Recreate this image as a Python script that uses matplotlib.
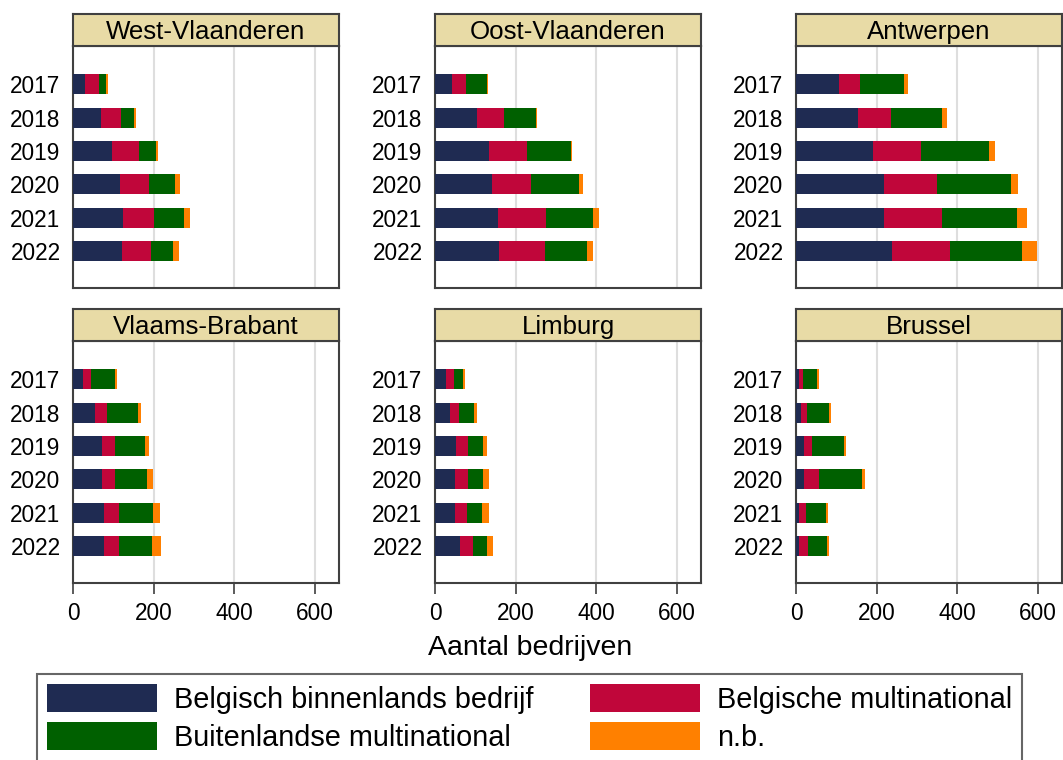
import numpy as np
import matplotlib
matplotlib.use("Agg")
import matplotlib.pyplot as plt
from matplotlib.patches import Patch

plt.rcParams['font.family'] = ['Liberation Sans', 'DejaVu Sans']

years = ['2017', '2018', '2019', '2020', '2021', '2022']
regions = ['West-Vlaanderen', 'Oost-Vlaanderen', 'Antwerpen',
           'Vlaams-Brabant', 'Limburg', 'Brussel']
series = ['Belgisch binnenlands bedrijf', 'Belgische multinational',
          'Buitenlandse multinational', 'n.b.']
colors = ['#1f2b52', '#c0063a', '#006000', '#ff8000']

# per region, one value per year
binnenlands = {
    'West-Vlaanderen': [31, 70, 96, 117, 123, 121],
    'Oost-Vlaanderen': [41, 103, 135, 141, 156, 159],
    'Antwerpen': [106, 154, 191, 218, 219, 238],
    'Vlaams-Brabant': [24, 55, 71, 71, 78, 78],
    'Limburg': [27, 36, 52, 50, 50, 61],
    'Brussel': [7, 13, 19, 21, 7, 7],
}
belg_multi = {
    'West-Vlaanderen': [33, 49, 67, 72, 79, 73],
    'Oost-Vlaanderen': [36, 68, 93, 97, 119, 114],
    'Antwerpen': [54, 81, 118, 131, 144, 144],
    'Vlaams-Brabant': [20, 30, 34, 33, 36, 35],
    'Limburg': [19, 24, 29, 33, 30, 34],
    'Brussel': [10, 15, 20, 37, 19, 22],
}
buit_multi = {
    'West-Vlaanderen': [17, 32, 43, 65, 74, 54],
    'Oost-Vlaanderen': [52, 79, 110, 119, 118, 104],
    'Antwerpen': [107, 127, 169, 184, 186, 179],
    'Vlaams-Brabant': [59, 76, 73, 79, 85, 83],
    'Limburg': [23, 38, 39, 37, 37, 34],
    'Brussel': [36, 53, 79, 106, 49, 49],
}
nb = {
    'West-Vlaanderen': [5, 6, 6, 12, 15, 16],
    'Oost-Vlaanderen': [3, 3, 3, 11, 15, 15],
    'Antwerpen': [12, 13, 16, 18, 25, 36],
    'Vlaams-Brabant': [5, 7, 11, 15, 17, 23],
    'Limburg': [6, 5, 9, 15, 18, 16],
    'Brussel': [5, 5, 5, 6, 5, 3],
}
xticks = [0, 200, 400, 600]

W, H = 1063, 760
fig = plt.figure(figsize=(W / 100, H / 100), dpi=100)

col_left = [73, 435, 796]
col_width = 266
row_top = [46, 341]
ax_height = 242
strip_h = 32
edge = '#404040'

for i, reg in enumerate(regions):
    r, c = divmod(i, 3)
    left = col_left[c] / W
    bottom = 1 - (row_top[r] + ax_height) / H
    ax = fig.add_axes([left, bottom, col_width / W, ax_height / H])
    y = np.arange(len(years))
    start = np.zeros(len(years))
    for vals, col in zip([binnenlands, belg_multi, buit_multi, nb], colors):
        v = np.array(vals[reg])
        ax.barh(y, v, left=start, height=0.6, color=col, zorder=3)
        start += v
    ax.set_xlim(0, 660)
    ax.set_ylim(6.1, -1.14)
    ax.set_yticks(y)
    ax.set_yticklabels(years, fontsize=16.3)
    ax.tick_params(axis='y', length=0, pad=9)
    ax.set_xticks(xticks)
    ax.grid(axis='x', color='#dedede', linewidth=1.5, zorder=0)
    for s in ax.spines.values():
        s.set_color(edge)
        s.set_linewidth(1.5)
    if r == 0:
        ax.tick_params(axis='x', length=0, labelbottom=False)
    else:
        ax.tick_params(axis='x', length=8, width=1.2, color=edge,
                       labelsize=16.3, pad=6)
    # title strip
    sax = ax.inset_axes([0, 1, 1, strip_h / ax_height])
    sax.set_facecolor('#e8dba6')
    sax.set_xticks([])
    sax.set_yticks([])
    for s in sax.spines.values():
        s.set_color(edge)
        s.set_linewidth(1.5)
    sax.text(0.5, 0.45, reg, ha='center', va='center', fontsize=18.6,
             transform=sax.transAxes)

fig.text(530 / W, 1 - 648 / H, 'Aantal bedrijven', ha='center',
         va='center', fontsize=20.5)

handles = [Patch(facecolor=c, edgecolor='none') for c in colors]
order = [0, 2, 1, 3]
leg = fig.legend([handles[k] for k in order], [series[k] for k in order],
                 ncol=2, loc='upper left',
                 bbox_to_anchor=(37 / W, 1 - 674 / H),
                 fontsize=20.8, frameon=True, fancybox=False,
                 edgecolor=edge, handlelength=3.8, handleheight=1.1,
                 handletextpad=0.6, columnspacing=1.95, labelspacing=0.3,
                 borderpad=0.35, borderaxespad=0)
leg.get_frame().set_linewidth(1.5)

fig.savefig('out.png', dpi=100, facecolor='white')
